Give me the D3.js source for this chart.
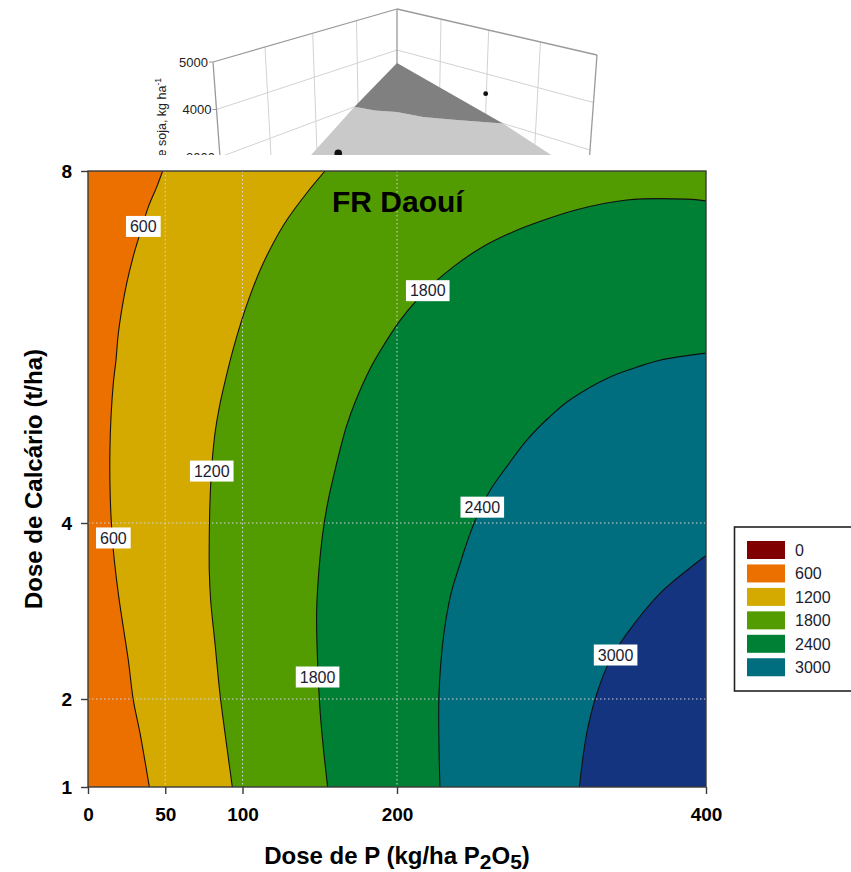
<!DOCTYPE html>
<html>
<head>
<meta charset="utf-8">
<script src="https://cdn.jsdelivr.net/npm/d3@7"></script>
<style>
  html, body { margin: 0; background: #fff; }
  svg { display: block; }
  text { font-family: "Liberation Sans", Arial, Helvetica, sans-serif; }
</style>
</head>
<body>
<svg id="chart" width="851" height="872"></svg>
<script>
// ---------------------------------------------------------------
// Data: isolines of soybean yield (kg/ha) over P dose and lime dose
// Each point is [P dose (kg/ha P2O5), lime dose (t/ha)]
// ---------------------------------------------------------------
const P_TICKS = [0, 50, 100, 200, 400];
const L_TICKS = [1, 2, 4, 8];
const P_GRID = [50, 100, 200];
const L_GRID = [2, 4];
const LEGEND_LEVELS = [0, 600, 1200, 1800, 2400, 3000];

const iso600 = [[48.3,8.0],[44.5,7.82],[39.0,7.59],[33.7,7.29],[29.3,7.03],[25.0,6.72],[21.8,6.42],
  [19.6,6.15],[18.1,5.85],[16.4,5.59],[14.9,5.21],[14.2,4.83],[14.2,4.45],[14.9,4.07],[16.4,3.69],
  [19.6,3.20],[22.8,2.82],[26.1,2.44],[29.3,1.99],[33.7,1.61],[39.7,1.0]];
const iso1200 = [[153.4,8.0],[141.6,7.75],[128.6,7.44],[119.9,7.18],[111.3,6.87],[103.8,6.53],[99.4,6.30],
  [93.7,5.96],[89.4,5.66],[85.5,5.36],[82.2,5.02],[80.1,4.64],[79.0,4.26],[78.5,3.84],[78.5,3.46],
  [79.4,3.12],[82.2,2.63],[85.4,2.06],[88.7,1.61],[93.4,1.0]];
const iso1800 = [[400,7.66],[387.5,7.68],[348.7,7.67],[316.3,7.56],[294.7,7.44],[275.3,7.31],[253.7,7.12],
  [236.4,6.91],[223.5,6.72],[212.7,6.53],[201.9,6.30],[189.3,5.96],[182.2,5.74],[173.5,5.40],[167.1,5.09],
  [163.1,4.83],[158.8,4.52],[155.5,4.26],[152.8,3.99],[150.2,3.61],[148.0,3.01],[148.4,2.52],[150.2,1.87],
  [152.3,1.45],[155.1,1.0]];
const iso2400 = [[400,5.93],[370.2,5.85],[355.1,5.77],[337.9,5.66],[312.0,5.40],[299.0,5.21],[283.9,4.94],
  [271.0,4.64],[260.2,4.37],[251.6,4.07],[245.1,3.77],[240.5,3.52],[235.0,3.20],[230.1,2.71],[227.2,2.06],
  [227.2,1.45],[227.8,1.0]];
const iso3000 = [[400,3.63],[387.5,3.46],[370.2,3.20],[348.7,2.74],[337.9,2.44],[329.3,2.06],[322.8,1.61],[318.0,1.0]];

// Inline contour labels: [level, P, lime]
const contourLabels = [[600,35.8,7.37],[600,16.4,3.83],[1200,80.1,4.59],[1800,219.9,6.64],
  [2400,255.2,4.18],[1800,148.6,2.25],[3000,341.5,2.50]];

// Small 3-D surface panel behind the map: [a, b, yield]
const insetZTicks = [5000, 4000, 3000];
const insetWallTicks = [0.25, 0.5, 0.75];
const surfaceHigh = [[0,0,3683],[0,0.549,3000],[0.089,0.392,3000],[0.150,0.2725,3000],
  [0.175,0.16,3000],[0.218,0.086,3000],[0.24,0,3000]];
const surfaceLow = [[0.24,0,3000],[0.487,0,2300],[0.6,0,2000],[0.5,0.6,1800],[0,0.95,2400],
  [0,0.798,2650],[0,0.549,3000],[0.089,0.392,3000],[0.150,0.2725,3000],[0.175,0.16,3000],[0.218,0.086,3000]];
const insetPoints = [[0,0.455,3550],[0.413,0.07,2300]];

// ---------------------------------------------------------------
const COLORS = {
  c0: "#800000", c600: "#EB7000", c1200: "#D4AA00", c1800: "#529B00",
  c2400: "#008034", c3000: "#006E7F", top: "#14347F"
};
const LEGEND_COLORS = [COLORS.c0, COLORS.c600, COLORS.c1200, COLORS.c1800, COLORS.c2400, COLORS.c3000];

const svg = d3.select("#chart");
svg.append("rect").attr("width", 851).attr("height", 872).attr("fill", "#fff");

// ---------------- 3-D surface panel (cut by the map) ----------------
const inset = svg.append("g");
svg.append("clipPath").attr("id", "insetClip").append("rect")
  .attr("x", 0).attr("y", 0).attr("width", 851).attr("height", 155);
inset.attr("clip-path", "url(#insetClip)");

const zDrop = d3.scaleLinear().domain([5000, 4000]).range([0, 1]);
function proj(a, b, z) {
  const D = zDrop(z);
  return [397 - 184 * a + 200 * b + D * 3.5 * (a - b),
          9 + 53 * a + 46 * b + D * (41 + 6.5 * (a + b))];
}
const warp = t => t * 0.846 / (1 - 0.154 * t);
const seg = (p, q, cls) => inset.append("line")
  .attr("x1", p[0]).attr("y1", p[1]).attr("x2", q[0]).attr("y2", q[1])
  .attr("stroke", cls === "edge" ? "#9a9a9a" : "#d2d2d2")
  .attr("stroke-width", cls === "edge" ? 1.3 : 1);

// wall grid
insetWallTicks.forEach(t => {
  const w = warp(t);
  seg(proj(w, 0, 5000), proj(w, 0, 1000), "grid");
  seg(proj(0, w, 5000), proj(0, w, 1000), "grid");
});
insetZTicks.slice(1).forEach(z => {
  seg(proj(1, 0, z), proj(0, 0, z), "grid");
  seg(proj(0, 0, z), proj(0, 1, z), "grid");
});
// wall edges
seg(proj(1, 0, 5000), proj(0, 0, 5000), "edge");
seg(proj(0, 0, 5000), proj(0, 1, 5000), "edge");
seg(proj(0, 0, 5000), proj(0, 0, 1000), "edge");
seg(proj(1, 0, 5000), proj(1, 0, 1000), "edge");
seg(proj(0, 1, 5000), proj(0, 1, 1000), "edge");

const surfLine = d3.line().x(d => proj(...d)[0]).y(d => proj(...d)[1]);
inset.append("path").attr("d", surfLine(surfaceLow) + "Z").attr("fill", "#c9c9c9");
inset.append("path").attr("d", surfLine(surfaceHigh) + "Z").attr("fill", "#808080");
insetPoints.forEach((p, i) => {
  const q = proj(...p);
  inset.append("circle").attr("cx", q[0]).attr("cy", q[1]).attr("r", i === 0 ? 2.4 : 3.8).attr("fill", "#111");
});
// z axis of the panel
insetZTicks.forEach(z => {
  const q = proj(1, 0, z);
  inset.append("line").attr("x1", q[0] - 4).attr("x2", q[0]).attr("y1", q[1]).attr("y2", q[1])
    .attr("stroke", "#9a9a9a").attr("stroke-width", 1);
  inset.append("text").attr("x", q[0] - 5).attr("y", q[1]).attr("dy", "0.36em")
    .attr("text-anchor", "end").attr("font-size", 13).attr("fill", "#222").text(z);
});
const zt = inset.append("text").attr("transform", "translate(166,78) rotate(-90)")
  .attr("text-anchor", "end").attr("font-size", 12.5).attr("fill", "#222");
zt.append("tspan").text("Produtividade de soja, kg ha");
zt.append("tspan").attr("dy", -5).attr("font-size", 8.5).text("-1");

// ---------------- contour map ----------------
const x = d3.scaleLinear().domain([0, 400]).range([88, 706]);
const y = d3.scaleLinear().domain([1, 8]).range([787, 171]);

svg.append("clipPath").attr("id", "plotClip").append("rect")
  .attr("x", x(0)).attr("y", y(8)).attr("width", x(400) - x(0)).attr("height", y(1) - y(8));

const plot = svg.append("g").attr("clip-path", "url(#plotClip)");
const iso = d3.line().x(d => x(d[0])).y(d => y(d[1])).curve(d3.curveCatmullRom.alpha(0.5));
const region = (pts, corners) => iso(pts) + corners.map(c => `L${x(c[0])},${y(c[1])}`).join("") + "Z";

plot.append("rect").attr("x", x(0)).attr("y", y(8)).attr("width", x(400) - x(0))
  .attr("height", y(1) - y(8)).attr("fill", COLORS.c600);
const bands = [
  { d: region(iso600, [[400, 1], [400, 8]]), fill: COLORS.c1200 },
  { d: region(iso1200, [[400, 1], [400, 8]]), fill: COLORS.c1800 },
  { d: region(iso1800, [[400, 1]]), fill: COLORS.c2400 },
  { d: region(iso2400, [[400, 1]]), fill: COLORS.c3000 },
  { d: region(iso3000, [[400, 1]]), fill: COLORS.top }
];
plot.selectAll("path.band").data(bands).join("path").attr("class", "band")
  .attr("d", d => d.d).attr("fill", d => d.fill);

// dotted grid
P_GRID.forEach(p => plot.append("line").attr("x1", x(p)).attr("x2", x(p)).attr("y1", y(8)).attr("y2", y(1))
  .attr("stroke", "#d6d6d6").attr("stroke-width", 1).attr("stroke-dasharray", "1.5,2.5"));
L_GRID.forEach(l => plot.append("line").attr("x1", x(0)).attr("x2", x(400)).attr("y1", y(l)).attr("y2", y(l))
  .attr("stroke", "#d6d6d6").attr("stroke-width", 1).attr("stroke-dasharray", "1.5,2.5"));

// isolines
[iso600, iso1200, iso1800, iso2400, iso3000].forEach(pts =>
  plot.append("path").attr("d", iso(pts)).attr("fill", "none").attr("stroke", "#111").attr("stroke-width", 1.1));

// inline labels
contourLabels.forEach(([lev, p, l]) => {
  const g = svg.append("g").attr("transform", `translate(${x(p)},${y(l)})`);
  const r = g.append("rect").attr("fill", "#fff");
  const t = g.append("text").attr("text-anchor", "middle").attr("dy", "0.36em")
    .attr("font-size", 16).attr("fill", "#1c1c30").text(lev);
  const w = t.node().getComputedTextLength() + 8;
  r.attr("x", -w / 2).attr("y", -10.5).attr("width", w).attr("height", 21);
});

// frame
svg.append("rect").attr("x", x(0)).attr("y", y(8)).attr("width", x(400) - x(0)).attr("height", y(1) - y(8))
  .attr("fill", "none").attr("stroke", "#3a3a3a").attr("stroke-width", 1.4);

// axes
const yAxis = svg.append("g").attr("transform", `translate(${x(0)},0)`)
  .call(d3.axisLeft(y).tickValues(L_TICKS).tickFormat(d3.format("d")).tickSize(7).tickSizeOuter(0).tickPadding(9));
const xAxis = svg.append("g").attr("transform", `translate(0,${y(1)})`)
  .call(d3.axisBottom(x).tickValues(P_TICKS).tickFormat(d3.format("d")).tickSize(7).tickSizeOuter(0).tickPadding(14));
[yAxis, xAxis].forEach(a => {
  a.select(".domain").remove();
  a.selectAll(".tick line").attr("stroke", "#3a3a3a").attr("stroke-width", 1.4);
  a.selectAll(".tick text").attr("fill", "#000").attr("font-weight", "bold")
    .attr("font-family", "'Liberation Sans', Arial, sans-serif");
});
yAxis.selectAll(".tick text").attr("font-size", 19);
xAxis.selectAll(".tick text").attr("font-size", 19);

// titles
svg.append("text").attr("x", 332).attr("y", 212).attr("font-size", 30).attr("font-weight", "bold")
  .attr("fill", "#000").text("FR Daouí");

const xt = svg.append("text").attr("x", (x(0) + x(400)) / 2).attr("y", 864).attr("text-anchor", "middle")
  .attr("font-size", 24).attr("font-weight", "bold").attr("fill", "#000");
xt.append("tspan").text("Dose de P (kg/ha P");
xt.append("tspan").attr("dy", 5).attr("font-size", 21).text("2");
xt.append("tspan").attr("dy", -5).text("O");
xt.append("tspan").attr("dy", 5).attr("font-size", 21).text("5");
xt.append("tspan").attr("dy", -5).text(")");

svg.append("text").attr("transform", `translate(42,${(y(1) + y(8)) / 2}) rotate(-90)`)
  .attr("text-anchor", "middle").attr("font-size", 24).attr("font-weight", "bold").attr("fill", "#000")
  .text("Dose de Calcário (t/ha)");

// legend
const lg = svg.append("g");
lg.append("rect").attr("x", 734.5).attr("y", 527).attr("width", 130).attr("height", 164)
  .attr("fill", "#fff").attr("stroke", "#222").attr("stroke-width", 1.6);
LEGEND_LEVELS.forEach((lev, i) => {
  const yy = 541 + i * 23.45;
  lg.append("rect").attr("x", 747).attr("y", yy).attr("width", 38).attr("height", 18)
    .attr("fill", LEGEND_COLORS[i]);
  lg.append("text").attr("x", 795).attr("y", yy + 9).attr("dy", "0.36em").attr("font-size", 16)
    .attr("fill", "#1c1c30").text(lev);
});
</script>
</body>
</html>
